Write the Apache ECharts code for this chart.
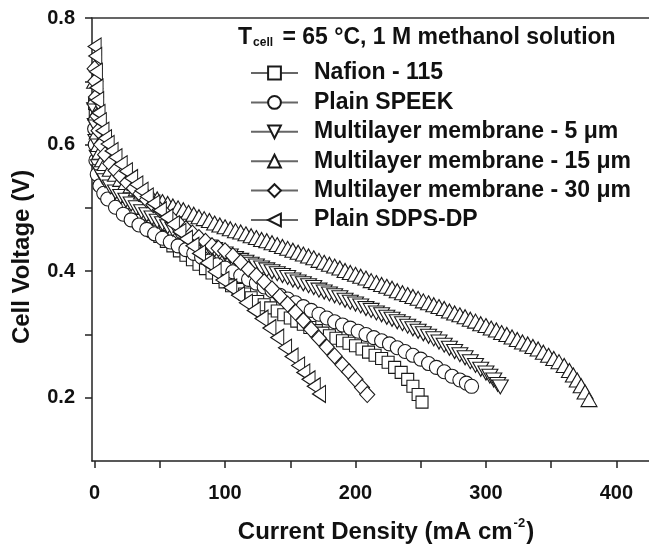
<!DOCTYPE html>
<html>
<head>
<meta charset="utf-8">
<title>DMFC polarization</title>
<script src="https://cdn.jsdelivr.net/npm/echarts@6/dist/echarts.min.js"></script>
<style>
  html, body { margin: 0; padding: 0; background: #fff; }
  #chart { width: 649px; height: 549px; }
</style>
</head>
<body>
<div id="chart"></div>
<script>
// [current density (mA cm-2), cell voltage (V)]
var nafion115 = [[0,0.665],[0.5,0.645],[1,0.62],[2,0.598],[3,0.582],[5,0.565],[10,0.54],[15,0.523],[20,0.51],[25,0.499],[30,0.489],[35,0.48],[40,0.471],[45,0.463],[50,0.455],[55,0.447],[60,0.44],[65,0.432],[70,0.425],[75,0.418],[80,0.411],[85,0.404],[90,0.397],[95,0.39],[100,0.383],[105,0.377],[110,0.371],[115,0.364],[120,0.358],[125,0.352],[130,0.347],[135,0.342],[140,0.337],[145,0.331],[150,0.326],[155,0.321],[160,0.316],[165,0.311],[170,0.306],[175,0.302],[180,0.298],[185,0.294],[190,0.29],[195,0.286],[200,0.282],[205,0.277],[210,0.272],[215,0.267],[220,0.262],[225,0.256],[230,0.248],[235,0.24],[240,0.229],[244,0.218],[248,0.205],[251,0.193]];
var plainSpeek = [[0,0.625],[0.5,0.6],[1,0.575],[2,0.553],[4,0.535],[7,0.523],[10,0.514],[16,0.501],[22,0.49],[28,0.481],[34,0.473],[40,0.466],[46,0.459],[52,0.452],[58,0.446],[64,0.44],[70,0.434],[76,0.428],[82,0.422],[88,0.416],[94,0.41],[100,0.405],[106,0.399],[112,0.393],[118,0.387],[124,0.381],[130,0.375],[136,0.369],[142,0.362],[148,0.356],[154,0.35],[160,0.344],[166,0.338],[172,0.332],[178,0.326],[184,0.32],[190,0.315],[196,0.31],[202,0.305],[208,0.3],[214,0.295],[220,0.29],[226,0.285],[232,0.279],[238,0.273],[244,0.267],[250,0.261],[256,0.254],[262,0.248],[268,0.241],[274,0.234],[280,0.228],[285,0.223],[289,0.218]];
var multi5 = [[0,0.655],[0.5,0.63],[1,0.605],[2,0.58],[3,0.565],[4,0.557],[6,0.549],[8,0.543],[12,0.533],[16,0.525],[20,0.518],[24,0.512],[28,0.506],[32,0.5],[36,0.494],[40,0.489],[44,0.484],[48,0.479],[52,0.475],[56,0.47],[60,0.466],[64,0.462],[68,0.458],[72,0.453],[76,0.449],[80,0.445],[84,0.441],[88,0.438],[92,0.434],[96,0.43],[100,0.427],[104,0.424],[108,0.42],[112,0.417],[116,0.414],[120,0.411],[124,0.408],[128,0.405],[132,0.402],[136,0.399],[140,0.396],[144,0.393],[148,0.39],[152,0.386],[156,0.383],[160,0.38],[164,0.377],[168,0.374],[172,0.37],[176,0.367],[180,0.364],[184,0.361],[188,0.358],[192,0.354],[196,0.351],[200,0.348],[204,0.345],[208,0.341],[212,0.338],[216,0.334],[220,0.331],[224,0.327],[228,0.324],[232,0.32],[236,0.317],[240,0.313],[244,0.309],[248,0.305],[252,0.301],[256,0.297],[260,0.293],[264,0.288],[268,0.283],[272,0.278],[276,0.273],[280,0.268],[284,0.263],[288,0.257],[292,0.251],[296,0.245],[300,0.239],[303,0.234],[306,0.228],[309,0.221],[311,0.217]];
var multi15 = [[0,0.7],[0.5,0.675],[1,0.65],[2,0.62],[3,0.6],[4,0.588],[6,0.576],[8,0.57],[12,0.561],[16,0.553],[20,0.545],[24,0.54],[28,0.535],[32,0.53],[36,0.525],[40,0.521],[44,0.517],[48,0.514],[52,0.51],[56,0.507],[60,0.503],[64,0.5],[68,0.497],[72,0.493],[76,0.49],[80,0.486],[84,0.483],[88,0.48],[92,0.476],[96,0.473],[100,0.47],[104,0.467],[108,0.464],[112,0.462],[116,0.459],[120,0.456],[124,0.453],[128,0.45],[132,0.448],[136,0.445],[140,0.442],[144,0.439],[148,0.436],[152,0.433],[156,0.43],[160,0.427],[164,0.424],[168,0.421],[172,0.417],[176,0.414],[180,0.411],[184,0.408],[188,0.405],[192,0.401],[196,0.398],[200,0.395],[204,0.392],[208,0.389],[212,0.385],[216,0.382],[220,0.379],[224,0.376],[228,0.373],[232,0.369],[236,0.366],[240,0.363],[244,0.36],[248,0.357],[252,0.353],[256,0.35],[260,0.347],[264,0.344],[268,0.341],[272,0.337],[276,0.334],[280,0.331],[284,0.328],[288,0.324],[292,0.321],[296,0.317],[300,0.314],[304,0.31],[308,0.307],[312,0.303],[316,0.3],[320,0.296],[324,0.292],[328,0.288],[332,0.285],[336,0.281],[340,0.277],[344,0.272],[348,0.267],[352,0.262],[356,0.257],[360,0.251],[364,0.243],[367,0.236],[370,0.228],[373,0.219],[376,0.209],[379,0.197]];
var multi30 = [[0,0.72],[0.5,0.7],[1,0.675],[2,0.645],[3,0.622],[5,0.6],[8,0.584],[12,0.57],[16,0.559],[20,0.55],[25,0.54],[30,0.531],[35,0.522],[40,0.513],[45,0.505],[50,0.497],[55,0.489],[60,0.481],[65,0.474],[70,0.467],[75,0.46],[80,0.453],[85,0.447],[90,0.44],[95,0.436],[100,0.432],[106,0.424],[112,0.414],[118,0.403],[124,0.393],[130,0.383],[136,0.372],[142,0.36],[148,0.348],[154,0.335],[160,0.322],[166,0.308],[172,0.294],[178,0.28],[184,0.266],[190,0.252],[195,0.241],[200,0.229],[205,0.216],[209,0.205]];
var plainSdps = [[0,0.755],[0.5,0.74],[1,0.715],[1.5,0.69],[2,0.67],[3,0.65],[4,0.637],[6,0.622],[8,0.61],[10,0.601],[13,0.59],[16,0.58],[20,0.569],[24,0.558],[28,0.547],[32,0.537],[36,0.527],[40,0.518],[45,0.507],[50,0.496],[55,0.485],[60,0.474],[65,0.462],[70,0.451],[75,0.44],[80,0.428],[86,0.413],[92,0.399],[98,0.386],[104,0.374],[110,0.362],[116,0.35],[122,0.338],[128,0.325],[134,0.31],[140,0.295],[146,0.279],[151,0.265],[156,0.251],[160,0.24],[164,0.229],[168,0.218],[172,0.206]];

var seriesNames = ['Nafion - 115', 'Plain SPEEK', 'Multilayer membrane - 5 μm',
                   'Multilayer membrane - 15 μm', 'Multilayer membrane - 30 μm', 'Plain SDPS-DP'];
var xLabels = [0, 100, 200, 300, 400];
var xTicks = [0, 50, 100, 150, 200, 250, 300, 350, 400];
var yLabels = [0.2, 0.4, 0.6, 0.8];
var yTicks = [0.2, 0.3, 0.4, 0.5, 0.6, 0.7, 0.8];

var FONT = '"Liberation Sans", Arial, sans-serif';

// hollow markers, one shape per membrane
var markers = [
    {symbol: 'rect', size: 12},
    {symbol: 'circle', size: 14},
    {symbol: 'path://M0,0L10,0L5,9Z', size: [16, 14]},
    {symbol: 'triangle', size: [16, 14]},
    {symbol: 'diamond', size: [15, 16]},
    {symbol: 'path://M10,0L10,12L0,6Z', size: [13, 17]}
];
var allData = [nafion115, plainSpeek, multi5, multi15, multi30, plainSdps];

var chart = echarts.init(document.getElementById('chart'));

var option = {
    animation: false,
    backgroundColor: '#fff',
    title: {
        left: 238,
        top: 23,
        padding: 0,
        text: '{b|T}{s|cell}{b| = 65 °C, 1 M methanol solution}',
        textStyle: {
            rich: {
                b: {fontFamily: FONT, fontSize: 23, fontWeight: 'bold', color: '#111', lineHeight: 26, verticalAlign: 'bottom'},
                s: {fontFamily: FONT, fontSize: 12, fontWeight: 'bold', color: '#111', lineHeight: 12, padding: [19, 3, 0, 1], verticalAlign: 'bottom'}
            }
        }
    },
    legend: {
        orient: 'vertical',
        left: 250,
        top: 61,
        padding: 0,
        itemWidth: 47,
        itemHeight: 16,
        itemGap: 5.4,
        data: seriesNames,
        textStyle: {fontFamily: FONT, fontSize: 23, fontWeight: 'bold', color: '#111', lineHeight: 24, padding: [0, 0, 0, 11]}
    },
    grid: {left: 92, right: 0, top: 18, bottom: 82},
    xAxis: [{
        type: 'value',
        min: -2,
        max: 425,
        name: '{n|Current Density (mA cm}{p|-2}{n|)}',
        nameLocation: 'middle',
        nameGap: 55,
        nameTextStyle: {
            padding: [0, 0, 0, 31],
            rich: {
                n: {fontFamily: FONT, fontSize: 24, fontWeight: 'bold', color: '#111', lineHeight: 28, verticalAlign: 'bottom'},
                p: {fontFamily: FONT, fontSize: 13, fontWeight: 'bold', color: '#111', lineHeight: 14, padding: [0, 1, 14, 1], verticalAlign: 'bottom'}
            }
        },
        splitLine: {show: false},
        axisLine: {onZero: false, lineStyle: {color: '#222', width: 1.5}},
        axisTick: {customValues: xTicks, length: 7, lineStyle: {color: '#222', width: 1.5}},
        axisLabel: {customValues: xLabels, margin: 22, fontFamily: FONT, fontSize: 20, fontWeight: 'bold', color: '#111'}
    }, {
        // top frame line
        type: 'value',
        position: 'top',
        min: -2,
        max: 425,
        splitLine: {show: false},
        axisLine: {onZero: false, lineStyle: {color: '#333', width: 1.5}},
        axisTick: {show: false},
        axisLabel: {show: false}
    }],
    yAxis: {
        type: 'value',
        min: 0.1,
        max: 0.8,
        name: 'Cell Voltage (V)',
        nameLocation: 'middle',
        nameGap: 58,
        nameTextStyle: {fontFamily: FONT, fontSize: 24, fontWeight: 'bold', color: '#111', padding: [0, 35, 0, 0]},
        splitLine: {show: false},
        axisLine: {onZero: false, lineStyle: {color: '#222', width: 1.5}},
        axisTick: {customValues: yTicks, length: 7, lineStyle: {color: '#222', width: 1.5}},
        axisLabel: {customValues: yLabels, margin: 17, fontFamily: FONT, fontSize: 20, fontWeight: 'bold', color: '#111',
                    formatter: function (v) { return v.toFixed(1); }}
    },
    series: seriesNames.map(function (name, i) {
        return {
            name: name,
            type: 'line',
            data: allData[i],
            symbol: markers[i].symbol,
            symbolSize: markers[i].size,
            showAllSymbol: true,
            lineStyle: {color: '#666', width: 1},
            itemStyle: {color: '#fff', borderColor: '#1a1a1a', borderWidth: 1.1},
            emphasis: {disabled: true}
        };
    })
};
chart.setOption(option);
</script>
</body>
</html>
